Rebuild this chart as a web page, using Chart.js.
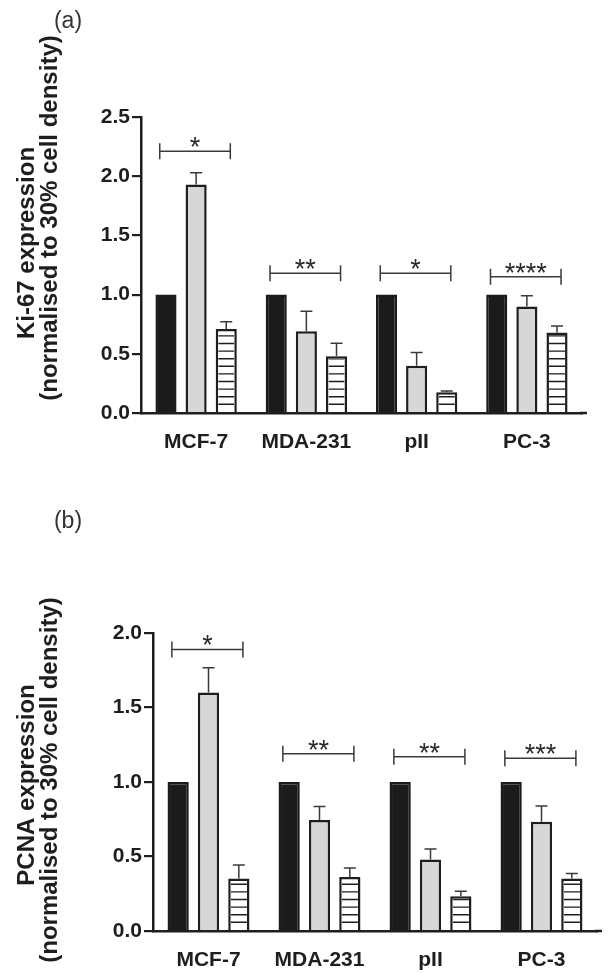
<!DOCTYPE html>
<html>
<head>
<meta charset="utf-8">
<script src="https://cdn.jsdelivr.net/npm/chart.js@4.4.1/dist/chart.umd.min.js"></script>
<style>
  html, body { margin: 0; padding: 0; background: #fff; }
  canvas { display: block; }
</style>
</head>
<body>
<canvas id="chartA" width="609" height="480"></canvas>
<canvas id="chartB" width="609" height="493"></canvas>
<script>
// cell lines
const categories = ['MCF-7', 'MDA-231', 'pII', 'PC-3'];
const seriesNames = ['30% density', '70% density', '100% density'];

// (a) Ki-67
const ki67Control = [1, 1, 1, 1];
const ki67Mid = [1.93, 0.69, 0.40, 0.90];
const ki67MidErr = [0.10, 0.17, 0.11, 0.09];
const ki67High = [0.71, 0.48, 0.175, 0.68];
const ki67HighErr = [0.06, 0.11, 0.01, 0.055];
const ki67Sig = ['*', '**', '*', '****'];
const ki67SigY = [2.21, 1.18, 1.18, 1.15];
const ki67Ticks = [0, 0.5, 1.0, 1.5, 2.0, 2.5];

// (b) PCNA
const pcnaControl = [1, 1, 1, 1];
const pcnaMid = [1.60, 0.745, 0.48, 0.733];
const pcnaMidErr = [0.166, 0.09, 0.07, 0.106];
const pcnaHigh = [0.353, 0.363, 0.233, 0.353];
const pcnaHighErr = [0.09, 0.06, 0.034, 0.033];
const pcnaSig = ['*', '**', '**', '***'];
const pcnaSigY = [1.89, 1.19, 1.17, 1.16];
const pcnaTicks = [0, 0.5, 1.0, 1.5, 2.0];

const FONT = '"Liberation Sans", Arial, sans-serif';
const INK = '#1e1e1e';

// error bars, stripes, brackets, titles
const extras = {
  id: 'extras',
  afterDatasetDraw(chart, args) {
    if (args.index !== 2) return;
    const ctx = chart.ctx;
    const bw = 2.5;
    ctx.save();
    ctx.strokeStyle = INK;
    ctx.lineWidth = 1.4;
    args.meta.data.forEach(bar => {
      const p = bar.getProps(['x', 'y', 'base', 'width'], true);
      const l = p.x - p.width / 2 + bw, r = p.x + p.width / 2 - bw;
      const top = p.y + bw;
      ctx.save();
      ctx.beginPath();
      ctx.rect(l, top, r - l, p.base - top);
      ctx.clip();
      ctx.beginPath();
      for (let yy = p.base - 7.6; yy > top; yy -= 7.6) {
        ctx.moveTo(l, yy);
        ctx.lineTo(r, yy);
      }
      ctx.stroke();
      ctx.restore();
    });
    ctx.restore();
  },
  afterDraw(chart, args, opts) {
    const ctx = chart.ctx;
    const ys = chart.scales.y;
    const xs = chart.scales.x;
    const area = chart.chartArea;
    ctx.save();
    // x axis runs a little past the last group
    ctx.strokeStyle = INK;
    ctx.lineWidth = 2.5;
    ctx.beginPath();
    ctx.moveTo(area.right - 2, area.bottom);
    ctx.lineTo(area.right + 5, area.bottom);
    ctx.stroke();

    ctx.strokeStyle = '#3a3a3a';
    ctx.lineWidth = 1.5;
    // error bars (upper only)
    [1, 2].forEach(di => {
      const meta = chart.getDatasetMeta(di);
      const vals = chart.data.datasets[di].data;
      const errs = opts.errors[di];
      meta.data.forEach((bar, i) => {
        const x = bar.x;
        const y0 = ys.getPixelForValue(vals[i]);
        const y1 = ys.getPixelForValue(vals[i] + errs[i]);
        ctx.beginPath();
        ctx.moveTo(x, y0);
        ctx.lineTo(x, y1);
        ctx.moveTo(x - 6, y1);
        ctx.lineTo(x + 6, y1);
        ctx.stroke();
      });
    });
    // significance brackets
    ctx.fillStyle = '#2a2a2a';
    ctx.font = '27px ' + FONT;
    ctx.textAlign = 'center';
    ctx.textBaseline = 'alphabetic';
    opts.sig.forEach((s, i) => {
      const xl = xs.getPixelForValue(i - 0.33);
      const xr = xs.getPixelForValue(i + 0.31);
      const y = ys.getPixelForValue(opts.sigY[i]);
      ctx.beginPath();
      ctx.moveTo(xl, y);
      ctx.lineTo(xr, y);
      ctx.moveTo(xl, y - 8);
      ctx.lineTo(xl, y + 8);
      ctx.moveTo(xr, y - 8);
      ctx.lineTo(xr, y + 8);
      ctx.stroke();
      ctx.fillText(s, (xl + xr) / 2, y + 5);
    });
    // axis title
    ctx.fillStyle = INK;
    ctx.font = 'bold 24px ' + FONT;
    ctx.textBaseline = 'middle';
    opts.title.forEach((t, k) => {
      ctx.save();
      ctx.translate(opts.titleX[k], opts.titleY[k]);
      ctx.rotate(-Math.PI / 2);
      ctx.fillText(t, 0, 0);
      ctx.restore();
    });
    // panel letter
    ctx.font = '23px ' + FONT;
    ctx.fillStyle = '#333';
    ctx.fillText(opts.panel, 68, opts.panelY);
    ctx.restore();
  }
};

function makeChart(id, control, mid, high, midErr, highErr, ticks, sig, sigY, cfg) {
  const datasets = [
    { label: seriesNames[0], data: control, backgroundColor: '#1b1b1b', borderColor: '#1b1b1b', borderWidth: 2.5 },
    { label: seriesNames[1], data: mid, backgroundColor: '#d6d7d9', borderColor: INK, borderWidth: 2.5 },
    { label: seriesNames[2], data: high, backgroundColor: '#ffffff', borderColor: INK, borderWidth: 2.5 }
  ];
  return new Chart(document.getElementById(id), {
    type: 'bar',
    data: { labels: categories, datasets: datasets },
    plugins: [extras],
    options: {
      responsive: false,
      animation: false,
      categoryPercentage: 0.82,
      barPercentage: 0.7,
      layout: { padding: { top: cfg.top, right: cfg.right, left: 0, bottom: 0 } },
      plugins: {
        legend: { display: false },
        tooltip: { enabled: false },
        extras: {
          errors: [null, midErr, highErr],
          sig: sig,
          sigY: sigY,
          title: cfg.title,
          titleX: [27, 50],
          titleY: cfg.titleY,
          panel: cfg.panel,
          panelY: cfg.panelY
        }
      },
      scales: {
        x: {
          grid: { display: false },
          border: { display: true, color: INK, width: 2.5 },
          ticks: { color: INK, font: { family: FONT, size: 21, weight: 'bold' }, padding: 9 },
          afterFit: s => { s.height = cfg.xHeight; }
        },
        y: {
          min: 0,
          max: ticks[ticks.length - 1],
          afterBuildTicks: s => { s.ticks = ticks.map(v => ({ value: v })); },
          grid: { drawOnChartArea: false, drawTicks: true, tickLength: 9, color: INK, lineWidth: 2.2 },
          border: { display: true, color: INK, width: 2.5 },
          ticks: {
            color: INK,
            padding: 2,
            font: { family: FONT, size: 21, weight: 'bold' },
            callback: v => Number(v).toFixed(1)
          },
          afterFit: s => { s.width = cfg.axisX; }
        }
      }
    }
  });
}

makeChart('chartA', ki67Control, ki67Mid, ki67High, ki67MidErr, ki67HighErr, ki67Ticks, ki67Sig, ki67SigY, {
  top: 117, right: 27, xHeight: 480 - 413, axisX: 141,
  title: ['Ki-67 expression', '(normalised to 30% cell density)'],
  titleY: [243, 218], panel: '(a)', panelY: 22
});

makeChart('chartB', pcnaControl, pcnaMid, pcnaHigh, pcnaMidErr, pcnaHighErr, pcnaTicks, pcnaSig, pcnaSigY, {
  top: 153, right: 12, xHeight: 493 - 451, axisX: 153,
  title: ['PCNA expression', '(normalised to 30% cell density)'],
  titleY: [305, 300], panel: '(b)', panelY: 42
});
</script>
</body>
</html>
